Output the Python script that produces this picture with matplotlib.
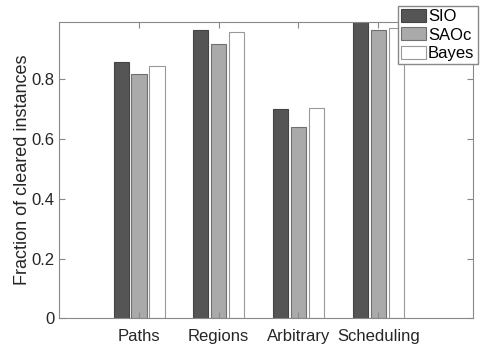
import matplotlib
matplotlib.use("Agg")
import matplotlib.pyplot as plt
import numpy as np

# Fraction of cleared instances per problem class
categories = ['Paths', 'Regions', 'Arbitrary', 'Scheduling']
sio = [0.857, 0.965, 0.700, 1.000]
saoc = [0.817, 0.920, 0.639, 0.965]
bayes = [0.846, 0.957, 0.705, 0.973]

plt.rcParams['font.family'] = ['Liberation Sans', 'DejaVu Sans']

fig = plt.figure(figsize=(4.85, 3.53), dpi=100)
ax = fig.add_axes([0.1223, 0.0983, 0.8530, 0.8402])

x = np.arange(1, len(categories) + 1)
w = 0.19
off = 0.225
ax.bar(x - off, sio, w, color='#555555', edgecolor='#444444', linewidth=0.8, label='SIO')
ax.bar(x, saoc, w, color='#aaaaaa', edgecolor='#707070', linewidth=0.8, label='SAOc')
ax.bar(x + off, bayes, w, color='white', edgecolor='#999999', linewidth=0.8, label='Bayes')

ax.set_xlim(0, 5.19)
ax.set_ylim(0, 0.993)
ax.set_xticks(x)
ax.set_xticklabels(categories)
ax.set_yticks([0, 0.2, 0.4, 0.6, 0.8])
ax.set_yticklabels(['0', '0.2', '0.4', '0.6', '0.8'])
ax.set_ylabel('Fraction of cleared instances', fontsize=13, color='#262626', labelpad=0)

for s in ax.spines.values():
    s.set_color('#888888')
    s.set_linewidth(0.8)
ax.tick_params(direction='in', top=True, right=True, length=4, width=0.8,
               color='#888888', labelcolor='#262626', labelsize=12)
ax.tick_params(axis='x', pad=8)

fig.legend(loc='upper right', bbox_to_anchor=(0.985, 0.984), fontsize=12,
           frameon=True, fancybox=False, edgecolor='#888888', framealpha=1,
           handlelength=1.5, handleheight=0.8, handletextpad=0.1,
           labelspacing=0.2, borderpad=0.2, borderaxespad=0)

fig.savefig('out.png', dpi=100)
